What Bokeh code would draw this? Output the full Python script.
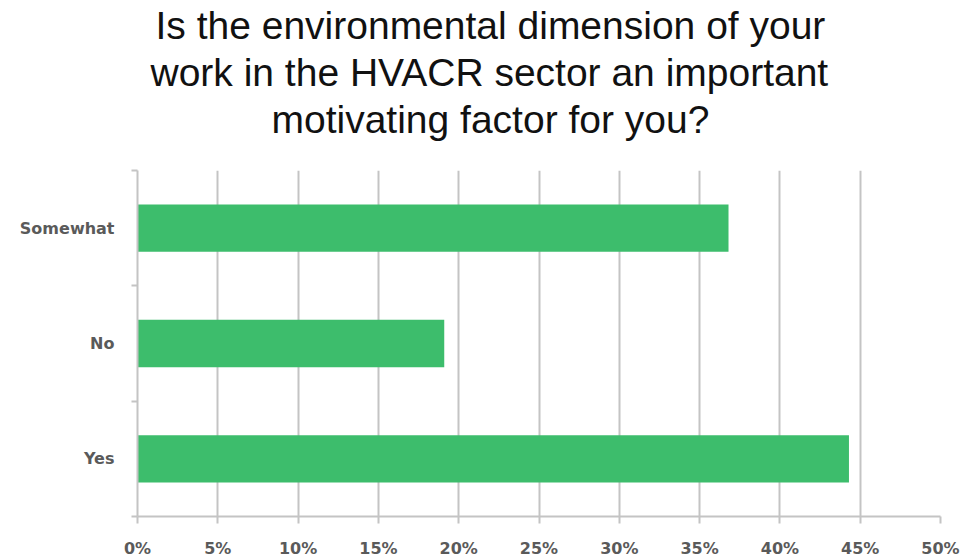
from bokeh.plotting import figure
from bokeh.models import Range1d, FixedTicker, NumeralTickFormatter, Title
from bokeh.embed import file_html
from bokeh.resources import INLINE

# Survey answers, listed bottom to top
categories = ["Yes", "No", "Somewhat"]
shares = [0.443, 0.191, 0.368]
x_ticks = [0.0, 0.05, 0.10, 0.15, 0.20, 0.25, 0.30, 0.35, 0.40, 0.45, 0.50]

title_lines = [
    "Is the environmental dimension of your",
    "work in the HVACR sector an important",
    "motivating factor for you?",
]
# left offsets (px from the plot frame's left edge) that centre each
# heading line near x = 489 on the page
title_offsets = [18, 13, 134]

GRID = "#c4c4c4"
BAR = "#3dbd6c"
LABEL = "#5a5a5a"
TICK_FONT = "DejaVu Sans"

# bands centred at i + 0.5, band edges at whole numbers
ypos = [i + 0.5 for i in range(len(categories))]
edges = list(range(len(categories) + 1))

p = figure(
    width=966, height=560,
    x_range=Range1d(0, 0.5), y_range=Range1d(0, len(categories)),
    output_backend="svg", toolbar_location=None,
    min_border_left=137, min_border_right=26,
    min_border_top=169, min_border_bottom=43,
)
p.title = None
p.outline_line_color = None
p.background_fill_color = "white"
p.border_fill_color = "white"

p.hbar(y=ypos, right=shares, left=0, height=0.41, color=BAR, line_color=None)

# x axis: percentage ticks every 5 %
xa = p.xaxis[0]
xa.ticker = FixedTicker(ticks=x_ticks)
xa.formatter = NumeralTickFormatter(format="0%")
xa.axis_line_color = GRID
xa.axis_line_width = 2
xa.major_tick_line_color = GRID
xa.major_tick_line_width = 2
xa.major_tick_in = 0
xa.major_tick_out = 7
xa.minor_tick_line_color = None
xa.major_label_standoff = 15
xa.major_label_text_font = TICK_FONT
xa.major_label_text_font_style = "bold"
xa.major_label_text_font_size = "16px"
xa.major_label_text_color = LABEL

# y axis: category names at band centres, tick marks at band edges
ya = p.yaxis[0]
ya.ticker = FixedTicker(ticks=ypos, minor_ticks=edges)
ya.major_label_overrides = {y: c for y, c in zip(ypos, categories)}
ya.axis_line_color = GRID
ya.axis_line_width = 2
ya.major_tick_line_color = None
ya.major_tick_in = 0
ya.major_tick_out = 0
ya.minor_tick_line_color = GRID
ya.minor_tick_line_width = 2
ya.minor_tick_in = 0
ya.minor_tick_out = 6
ya.major_label_standoff = 17
ya.major_label_text_font = TICK_FONT
ya.major_label_text_font_style = "bold"
ya.major_label_text_font_size = "16px"
ya.major_label_text_color = LABEL

p.xgrid.ticker = FixedTicker(ticks=x_ticks)
p.xgrid.grid_line_color = GRID
p.xgrid.grid_line_width = 2
p.ygrid.grid_line_color = None

# blank spacer between the plot and the heading block
p.add_layout(Title(text=" ", text_font_size="22px", standoff=2), "above")

# three heading lines; the one added first sits nearest the plot
for line, off in reversed(list(zip(title_lines, title_offsets))):
    p.add_layout(Title(
        text=line, align="left", offset=off,
        text_font="Liberation Sans", text_font_size="39px",
        text_font_style="normal", text_color="#111111",
        standoff=2,
    ), "above")

open("out.html", "w").write(file_html(p, INLINE))
